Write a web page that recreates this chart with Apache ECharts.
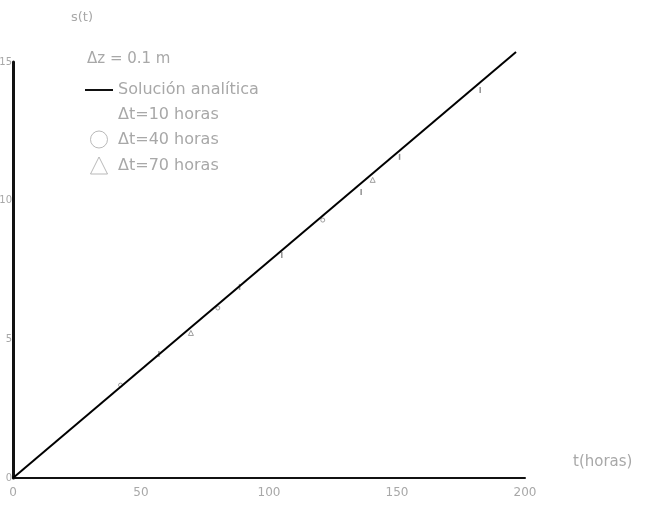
<!DOCTYPE html>
<html><head><meta charset="utf-8">
<script src="https://cdn.jsdelivr.net/npm/echarts@6/dist/echarts.min.js"></script>
<style>html,body{margin:0;padding:0;background:#fff}#c{width:651px;height:511px}</style>
</head><body><div id="c"></div>
<script>
// Data
const analyticT = [0, 196.5];
const analyticS = [0, 15.36];
const dt10T = [57, 88.5, 105, 136, 151, 182.5];
const dt10S = [4.47, 6.89, 8.04, 10.31, 11.58, 13.99];
const dt40T = [42, 80, 121];
const dt40S = [3.35, 6.13, 9.30];
const dt70T = [69.5, 140.5];
const dt70S = [5.23, 10.75];
const xTicks = [0, 50, 100, 150, 200];
const yTicks = [0, 5, 10, 15];

const pair = (a, b) => a.map((v, i) => [v, b[i]]);
const faded = '#a8a8a8';
const font = 'DejaVu Sans';
const chart = echarts.init(document.getElementById('c'));
chart.setOption({
  animation: false,
  backgroundColor: '#fff',
  title: [
    {text: 's(t)', left: 66, top: 6, textStyle: {color: faded, fontSize: 13, fontWeight: 'normal', fontFamily: font}},
    {text: 'Δz = 0.1 m', left: 82, top: 47, textStyle: {color: faded, fontSize: 15, fontWeight: 'normal', fontFamily: font}}
  ],
  legend: {
    orient: 'vertical', left: 80, top: 77, itemGap: 8, itemWidth: 28, itemHeight: 17,
    symbolKeepAspect: true,
    textStyle: {color: faded, fontSize: 16, fontFamily: font},
    data: [
      {name: 'Solución analítica', icon: 'path://M0,5L30,5L30,7L0,7Z', itemStyle: {color: '#000'}},
      {name: 'Δt=10 horas', icon: 'none'},
      {name: 'Δt=40 horas', icon: 'path://M10,8A2,2,0,1,1,10,8.01Z', itemStyle: {color: '#fff', borderColor: faded, borderWidth: 1}},
      {name: 'Δt=70 horas', icon: 'path://M10,5L13,11L7,11Z', itemStyle: {color: '#fff', borderColor: faded, borderWidth: 1}}
    ]
  },
  grid: {left: 13, right: 126, top: 62, bottom: 33, containLabel: false, outerBoundsMode: 'none'},
  xAxis: {
    type: 'value', min: 0, max: 200, interval: 50,
    name: 't(horas)', nameLocation: 'end', nameGap: 48,
    nameTextStyle: {color: faded, fontSize: 15, fontFamily: font, verticalAlign: 'bottom', padding: [0, 0, 8, 0]},
    axisLine: {lineStyle: {color: '#111', width: 2}},
    axisTick: {show: false}, splitLine: {show: false},
    axisLabel: {color: faded, fontSize: 12, margin: 9, fontFamily: font,
      formatter: v => xTicks.includes(v) ? String(v) : ''}
  },
  yAxis: {
    type: 'value', min: 0, max: 15, interval: 5,
    axisLine: {show: true, lineStyle: {color: '#111', width: 3}},
    axisTick: {show: false}, splitLine: {show: false},
    axisLabel: {color: faded, fontSize: 10, margin: 1, fontFamily: font,
      formatter: v => yTicks.includes(v) ? String(v) : ''}
  },
  series: [
    {name: 'Solución analítica', type: 'line', data: pair(analyticT, analyticS), showSymbol: false, clip: false,
      lineStyle: {color: '#000', width: 2}, itemStyle: {color: '#000'}},
    {name: 'Δt=10 horas', type: 'scatter', data: pair(dt10T, dt10S), symbol: 'rect', symbolSize: [1.5, 6],
      itemStyle: {color: '#777'}},
    {name: 'Δt=40 horas', type: 'scatter', data: pair(dt40T, dt40S), symbol: 'circle', symbolSize: 4,
      itemStyle: {color: '#fff', borderColor: '#888', borderWidth: 1}},
    {name: 'Δt=70 horas', type: 'scatter', data: pair(dt70T, dt70S), symbol: 'triangle', symbolSize: 5,
      itemStyle: {color: '#fff', borderColor: '#888', borderWidth: 1}}
  ]
});
</script></body></html>
